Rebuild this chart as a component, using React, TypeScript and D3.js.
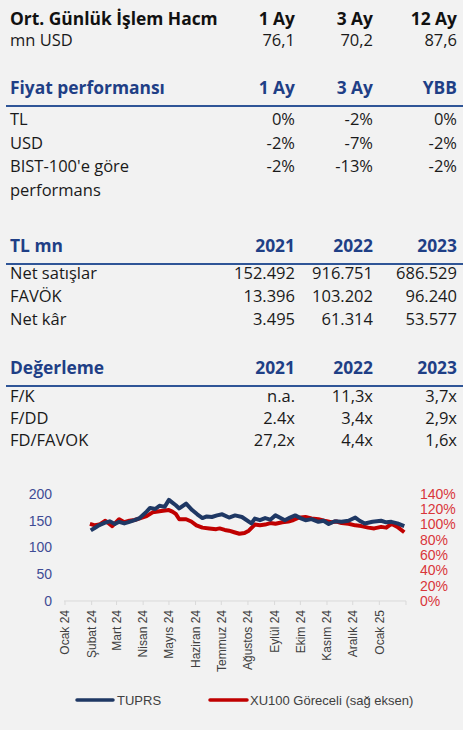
import React from "react";
import * as d3 from "d3";

const volHeader = ["1 Ay", "3 Ay", "12 Ay"];
const volValues = ["76,1", "70,2", "87,6"];

const perfHeader = ["1 Ay", "3 Ay", "YBB"];
const perfLabels = ["TL", "USD", "BIST-100'e göre"];
const perfValues = [
  ["0%", "-2%", "0%"],
  ["-2%", "-7%", "-2%"],
  ["-2%", "-13%", "-2%"],
];

const finYears = ["2021", "2022", "2023"];
const finLabels = ["Net satışlar", "FAVÖK", "Net kâr"];
const finValues = [
  ["152.492", "916.751", "686.529"],
  ["13.396", "103.202", "96.240"],
  ["3.495", "61.314", "53.577"],
];

const valLabels = ["F/K", "F/DD", "FD/FAVOK"];
const valValues = [
  ["n.a.", "11,3x", "3,7x"],
  ["2.4x", "3,4x", "2,9x"],
  ["27,2x", "4,4x", "1,6x"],
];

const monthLabels = [
  "Ocak 24", "Şubat 24", "Mart 24", "Nisan 24", "Mayıs 24", "Haziran 24",
  "Temmuz 24", "Ağustos 24", "Eylül 24", "Ekim 24", "Kasım 24", "Aralık 24", "Ocak 25",
];

const leftTicks = [0, 50, 100, 150, 200];
const rightTicks = [0, 20, 40, 60, 80, 100, 120, 140];

const tuprsDates = [
  "2024-01-31", "2024-02-05", "2024-02-10", "2024-02-16", "2024-02-22", "2024-02-28", "2024-03-04",
  "2024-03-10", "2024-03-16", "2024-03-22", "2024-03-28", "2024-04-05", "2024-04-09", "2024-04-15",
  "2024-04-20", "2024-04-26", "2024-05-01", "2024-05-05", "2024-05-09", "2024-05-13", "2024-05-21",
  "2024-05-28", "2024-06-03", "2024-06-09", "2024-06-14", "2024-06-20", "2024-06-26", "2024-07-02",
  "2024-07-10", "2024-07-17", "2024-07-25", "2024-08-05", "2024-08-09", "2024-08-15", "2024-08-21",
  "2024-08-27", "2024-09-02", "2024-09-08", "2024-09-13", "2024-09-19", "2024-09-25", "2024-10-01",
  "2024-10-07", "2024-10-14", "2024-10-22", "2024-10-28", "2024-11-03", "2024-11-10", "2024-11-18",
  "2024-11-26", "2024-12-04", "2024-12-09", "2024-12-15", "2024-12-24", "2025-01-03", "2025-01-09",
  "2025-01-15", "2025-01-22", "2025-01-30",
];
const tuprsValues = [
  132, 137, 142, 146, 149, 144, 148,
  145, 148, 151, 155, 167, 174, 172,
  178, 176, 189, 184, 179, 173, 182,
  170, 162, 155, 158, 157, 160, 162,
  156, 160, 157, 145, 154, 151, 155,
  152, 160, 155, 151, 156, 160, 155,
  151, 153, 148, 150, 144, 149, 148,
  150, 156, 150, 145, 148, 150, 147,
  148, 145, 140,
];

const xuDates = [
  "2024-01-30", "2024-02-05", "2024-02-10", "2024-02-17", "2024-02-25", "2024-03-04", "2024-03-10",
  "2024-03-16", "2024-03-22", "2024-03-28", "2024-04-05", "2024-04-12", "2024-04-18", "2024-04-24",
  "2024-05-01", "2024-05-05", "2024-05-09", "2024-05-13", "2024-05-21", "2024-05-27", "2024-06-02",
  "2024-06-09", "2024-06-17", "2024-06-25", "2024-06-29", "2024-07-05", "2024-07-10", "2024-07-16",
  "2024-07-22", "2024-07-28", "2024-08-02", "2024-08-09", "2024-08-15", "2024-08-21", "2024-08-27",
  "2024-09-02", "2024-09-10", "2024-09-17", "2024-09-23", "2024-09-29", "2024-10-07", "2024-10-14",
  "2024-10-22", "2024-10-29", "2024-11-06", "2024-11-12", "2024-11-18", "2024-11-26", "2024-12-04",
  "2024-12-11", "2024-12-19", "2024-12-26", "2025-01-03", "2025-01-09", "2025-01-15", "2025-01-22",
  "2025-01-30",
];
const xuValues = [
  101, 99, 100, 105, 98, 107, 103,
  105, 106, 108, 111, 116, 117, 118,
  119, 117, 114, 107, 107, 104, 99,
  96, 95, 94, 95, 93, 92, 90,
  88, 89, 92, 100, 99, 100, 102,
  101, 103, 104, 106, 109, 110, 108,
  107, 105, 103, 104, 102, 101, 99,
  98, 96, 95, 97, 96, 101, 97,
  90,
];

const W = 468;
const H = 730;
const BG = "#f2f2f2";
const HEAD_BLUE = "#1f3f86";
const LINE_BLUE = "#2f5597";
const TXT = "#1a1a1a";
const TABLE_FONT = "'Open Sans', 'Noto Sans', sans-serif";
const CHART_FONT = "'Liberation Sans', Arial, sans-serif";
const colX = [295, 373, 457];
const labelX = 10;
const REG = 16.5;
const BOLD = 17.4;

function Row({ y, label, values, bold = false, color = TXT, size = REG }: any) {
  return (
    <g fontFamily={TABLE_FONT} fontSize={size} fontWeight={bold ? 700 : 400} fill={color}>
      <text x={labelX} y={y}>{label}</text>
      {values.map((v: string, i: number) => (
        <text key={i} x={colX[i]} y={y} textAnchor="end">{v}</text>
      ))}
    </g>
  );
}

function Header({ y, label, values }: any) {
  return (
    <g>
      <Row y={y} label={label} values={values} bold color={HEAD_BLUE} size={BOLD} />
      <line x1={6} x2={463} y1={y + 12} y2={y + 12} stroke={LINE_BLUE} strokeWidth={2} />
    </g>
  );
}

export default function App() {
  const parse = d3.timeParse("%Y-%m-%d");
  const x = d3.scaleTime()
    .domain([new Date(2024, 0, 1), new Date(2025, 1, 1)])
    .range([65, 406]);
  const yL = d3.scaleLinear().domain([0, 200]).range([601, 494]);
  const yR = d3.scaleLinear().domain([0, 140]).range([601, 494]);

  const tuprs = tuprsDates.map((d, i) => ({ d: parse(d)!, v: tuprsValues[i] }));
  const xu = xuDates.map((d, i) => ({ d: parse(d)!, v: xuValues[i] }));

  const lineL = d3.line<any>().x((p) => x(p.d)).y((p) => yL(p.v));
  const lineR = d3.line<any>().x((p) => x(p.d)).y((p) => yR(p.v));

  const monthTicks = d3.range(0, 14).map((i) => new Date(2024, i, 1));

  return (
    <svg width={W} height={H} style={{ position: "absolute", left: 0, top: 0, display: "block" }}>
      <rect x={0} y={0} width={W} height={H} fill="#ffffff" />
      <rect x={0} y={0} width={463} height={H} fill={BG} />

      <Row y={25} label="Ort. Günlük İşlem Hacm" values={volHeader} bold size={BOLD} color="#111" />
      <Row y={46} label="mn USD" values={volValues} />

      <Header y={94} label="Fiyat performansı" values={perfHeader} />
      {perfLabels.map((l, i) => (
        <Row key={l} y={125 + i * 23.5} label={l} values={perfValues[i]} />
      ))}
      <Row y={196} label="performans" values={[]} />

      <Header y={252} label="TL mn" values={finYears} />
      {finLabels.map((l, i) => (
        <Row key={l} y={279 + i * 23} label={l} values={finValues[i]} />
      ))}

      <Header y={374} label="Değerleme" values={finYears} />
      {valLabels.map((l, i) => (
        <Row key={l} y={402 + i * 22} label={l} values={valValues[i]} />
      ))}

      <g fontFamily={CHART_FONT}>
        <line x1={64} x2={406} y1={601} y2={601} stroke="#d9d9d9" strokeWidth={1} />
        {monthTicks.map((t, i) => (
          <line key={i} x1={x(t)} x2={x(t)} y1={601} y2={605} stroke="#d9d9d9" />
        ))}
        {monthLabels.map((m, i) => {
          const px = x(monthTicks[i]);
          return (
            <text key={m} transform={`translate(${px},610) rotate(-90)`} textAnchor="end"
              dy="0.35em" fontSize={12} fill="#404040">{m}</text>
          );
        })}
        {leftTicks.map((t) => (
          <text key={t} x={52} y={yL(t)} dy="0.35em" textAnchor="end" fontSize={14} fill="#3f4c95">{t}</text>
        ))}
        {rightTicks.map((t) => (
          <text key={t} x={420} y={yR(t)} dy="0.35em" textAnchor="start" fontSize={14} fill="#d9363a">{t}%</text>
        ))}
        <path d={lineR(xu) || ""} fill="none" stroke="#c00000" strokeWidth={4} strokeLinejoin="round" />
        <path d={lineL(tuprs) || ""} fill="none" stroke="#1f3864" strokeWidth={4} strokeLinejoin="round" />

        <line x1={77} x2={113} y1={700} y2={700} stroke="#1f3864" strokeWidth={3.5} strokeLinecap="round" />
        <text x={117} y={700} dy="0.35em" fontSize={13} fill="#404040">TUPRS</text>
        <line x1={210} x2={247} y1={700} y2={700} stroke="#c00000" strokeWidth={3.5} strokeLinecap="round" />
        <text x={250} y={700} dy="0.35em" fontSize={13} fill="#404040">XU100 Göreceli (sağ eksen)</text>
      </g>
    </svg>
  );
}
